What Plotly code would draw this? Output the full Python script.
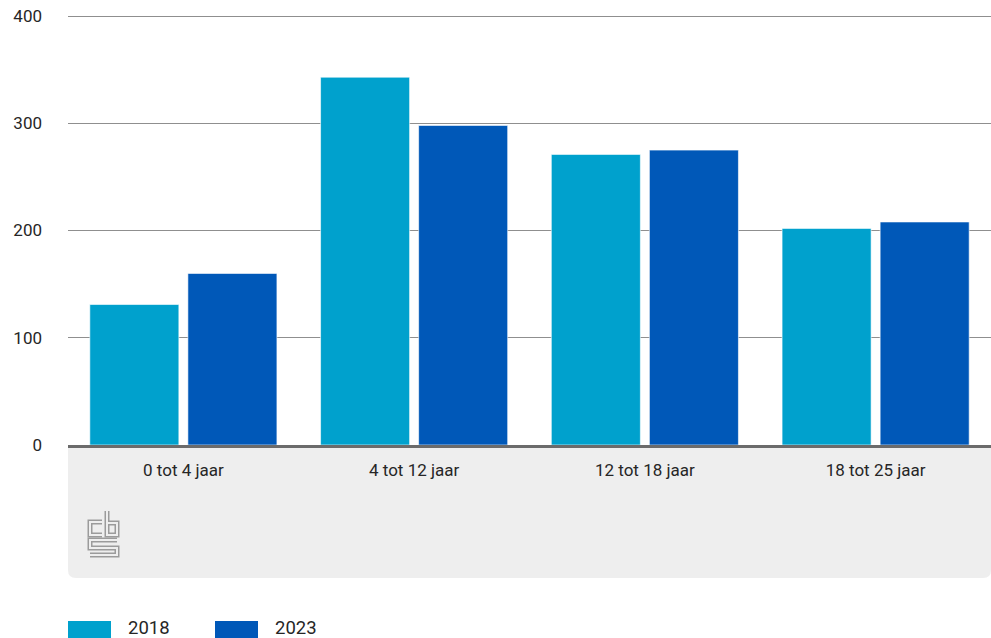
import plotly.graph_objects as go

categories = ["0 tot 4 jaar", "4 tot 12 jaar", "12 tot 18 jaar", "18 tot 25 jaar"]
series_names = ["2018", "2023"]
values_2018 = [131, 343, 271, 202]
values_2023 = [160, 298, 275, 208]
y_ticks = [0, 100, 200, 300, 400]
colors = ["#00a1cd", "#0058b8"]

W, H = 991, 638
L, R, T, B = 68, 0, 15, 193
PW, PH = W - L - R, H - T - B

def px(x):
    return (x - L) / PW

def py(y):
    return (H - B - y) / PH

FONT = "Roboto"
TXT = "#262626"

fig = go.Figure()
for name, vals, col in zip(series_names, [values_2018, values_2023], colors):
    fig.add_trace(go.Bar(
        x=categories, y=vals, name=name,
        marker=dict(color=col, line=dict(color="rgba(255,255,255,0.6)", width=1)),
        showlegend=False, hoverinfo="x+y+name",
    ))

shapes = []
# grey footer box with rounded bottom corners
r = 8
x0, x1 = 0, 1
y0, y1 = py(447), py(578)
rx, ry = r / PW, r / PH
path = (f"M {x0},{y0} L {x1},{y0} L {x1},{y1 + ry} Q {x1},{y1} {x1 - rx},{y1} "
        f"L {x0 + rx},{y1} Q {x0},{y1} {x0},{y1 + ry} Z")
shapes.append(dict(type="path", path=path, xref="paper", yref="paper",
                   fillcolor="#eeeeee", line=dict(width=0), layer="below"))

# CBS logo (double-line outline effect)
ox, oy = 88, 510
logo_paths = [
    [(14, 12), (2, 12), (2, 25), (14, 25)],
    [(19, 1), (19, 25), (29, 25), (29, 13), (19, 13)],
    [(29, 30), (2, 30), (2, 38), (29, 38), (29, 45), (2, 45)],
]
for pts in logo_paths:
    d = "M " + " L ".join(f"{px(ox + a)},{py(oy + b)}" for a, b in pts)
    shapes.append(dict(type="path", path=d, xref="paper", yref="paper",
                       line=dict(color="#9b9b9b", width=5)))
for pts in logo_paths:
    d = "M " + " L ".join(f"{px(ox + a)},{py(oy + b)}" for a, b in pts)
    shapes.append(dict(type="path", path=d, xref="paper", yref="paper",
                       line=dict(color="#eeeeee", width=2)))

# manual legend
annotations = []
legend_x = [68, 215]
for name, col, lx in zip(series_names, colors, legend_x):
    shapes.append(dict(type="rect", xref="paper", yref="paper",
                       x0=px(lx), x1=px(lx + 43), y0=py(621), y1=py(639),
                       fillcolor=col, line=dict(width=0)))
    annotations.append(dict(text=name, xref="paper", yref="paper",
                            x=px(lx + 58), y=py(628), xanchor="left", yanchor="middle",
                            showarrow=False, font=dict(family=FONT, size=18.5, color=TXT)))

fig.update_layout(
    width=W, height=H,
    margin=dict(l=L, r=R, t=T, b=B, pad=0),
    paper_bgcolor="white", plot_bgcolor="white",
    barmode="group", bargap=0.15, bargroupgap=0.092,
    font=dict(family=FONT, size=17, color=TXT),
    shapes=shapes, annotations=annotations,
    showlegend=False,
    xaxis=dict(showgrid=False, showline=True, linecolor="#6b6b6b", linewidth=3,
               ticks="", tickfont=dict(family=FONT, size=17, color=TXT),
               ticklabelstandoff=8, fixedrange=True),
    yaxis=dict(range=[0, 401], tickvals=y_ticks, showgrid=True, gridcolor="#8f8f8f",
               gridwidth=1, zeroline=False, showline=False, ticks="",
               tickfont=dict(family=FONT, size=17, color=TXT),
               ticklabelstandoff=25, fixedrange=True),
)

fig.write_html(
    "out.html",
    config={"displayModeBar": False},
    post_script="document.body.style.margin='0';document.body.style.overflow='hidden';",
)
